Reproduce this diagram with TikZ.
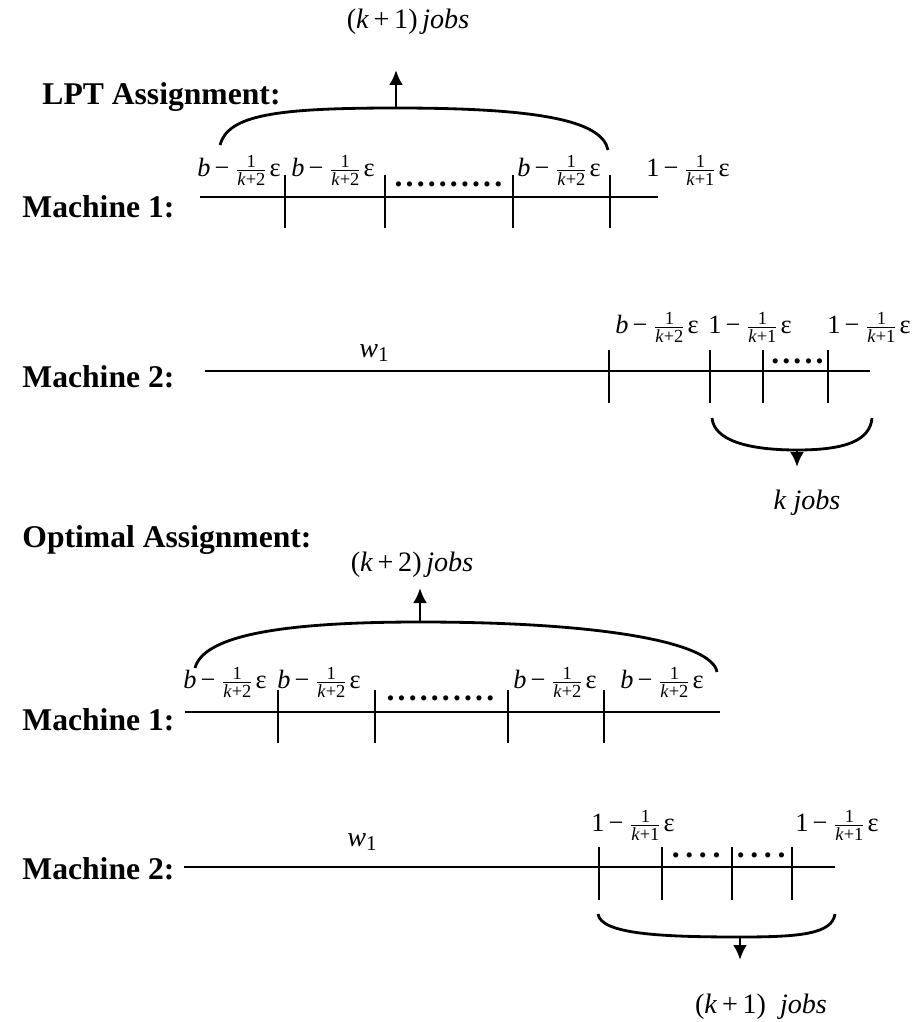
\documentclass[tikz,border=0pt]{standalone}
\usepackage{amsmath}
\usepackage{fontspec}
\setmainfont{Liberation Serif}
\usetikzlibrary{arrows.meta, positioning}

% one job length: b - 1/(k+2) eps  or  1 - 1/(k+1) eps
\newcommand{\piece}[2]{#1\kern1.2pt−\kern1pt$\frac{\text{1}}{\text{\textit{k}+#2}}$ε}
\newcommand{\bpiece}{\piece{\textit{b}}{2}}
\newcommand{\opiece}{\piece{1}{1}}
% a row of filler dots
\newcommand{\jobdots}[2]{\foreach \i in {1,...,#1}{.\kern#2}}

\begin{document}
\begin{tikzpicture}[
  font=\fontsize{8}{10}\selectfont,
  timeline/.style={thick},
  jobtick/.style={semithick},
  bracearc/.style={thick},
  pointer/.style={thick,-{Latex[length=1.5mm,width=1.4mm]}},
  machlabel/.style={anchor=west,font=\fontsize{9}{11}\selectfont\bfseries},
  seglabel/.style={anchor=south,inner sep=0.5pt,font=\fontsize{7.5}{9}\selectfont},
  dotrow/.style={inner sep=0pt,font=\fontsize{9}{10}\selectfont\bfseries}
]
\useasboundingbox (0,0) rectangle (9.13,-10.22);

% LPT assignment, machine 1
\node[machlabel] (lpt) at (0.30,-0.97) {LPT Assignment:};
\node (jobsA) at (4.08,-0.22) {(\textit{k}\,+\,1)\,\textit{jobs}};
\node[machlabel] (m1a) at (0.10,-2.07) {Machine 1:};
\coordinate (a0) at (2.00,-1.97);
\coordinate (a1) at (6.58,-1.97);
\draw[timeline] (a0) -- (a1);
\foreach \x in {2.85,3.85,5.13,6.10}
  \draw[jobtick] (\x,-1.75) -- (\x,-2.28);
\node[seglabel] (pa1) at (2.39,-1.88) {\bpiece};
\node[seglabel] (pa2) at (3.33,-1.88) {\bpiece};
\node[dotrow] (da) at (4.50,-1.84) {\jobdots{10}{0.9pt}};
\node[seglabel] (pa3) at (5.59,-1.88) {\bpiece};
\node[seglabel] (pa4) at (6.88,-1.88) {\opiece};
% brace over the first k+1 jobs
\coordinate (la) at (2.20,-1.45);
\coordinate (ta) at (3.96,-1.08);
\coordinate (ra) at (6.08,-1.50);
\coordinate (ha) at (3.96,-0.70);
\draw[bracearc] (la) .. controls +(0.08,0.3) and +(-1.2,0) .. (ta)
  .. controls +(1.4,0) and +(-0.06,0.3) .. (ra);
\draw[pointer] (ta) -- (ha);

% LPT assignment, machine 2
\node[machlabel] (m2a) at (0.10,-3.77) {Machine 2:};
\coordinate (b0) at (2.05,-3.71);
\coordinate (b1) at (8.70,-3.71);
\draw[timeline] (b0) -- (b1);
\node (wa) at (3.75,-3.53) {\textit{w}\textsubscript{1}};
\foreach \x in {6.09,7.10,7.63,8.28}
  \draw[jobtick] (\x,-3.50) -- (\x,-4.03);
\node[seglabel] (pb1) at (6.57,-3.45) {\bpiece};
\node[seglabel] (pb2) at (7.50,-3.45) {\opiece};
\node[seglabel] (pb3) at (8.69,-3.45) {\opiece};
\node[dotrow] (db) at (7.99,-3.61) {\jobdots{5}{0.9pt}};
% brace under the last k jobs
\coordinate (lb) at (7.12,-4.18);
\coordinate (tb) at (7.97,-4.50);
\coordinate (rb) at (8.72,-4.18);
\coordinate (hb) at (7.97,-4.67);
\draw[bracearc] (lb) .. controls +(0.02,-0.22) and +(-0.5,0) .. (tb)
  .. controls +(0.5,0) and +(-0.02,-0.22) .. (rb);
\draw[pointer] (tb) -- (hb);
\node (jobsB) at (8.07,-5.03) {\textit{k}\ \textit{jobs}};

% optimal assignment, machine 1
\node[machlabel] (opt) at (0.10,-5.40) {Optimal Assignment:};
\node (jobsC) at (4.12,-5.65) {(\textit{k}\,+\,2)\,\textit{jobs}};
\node[machlabel] (m1c) at (0.10,-7.20) {Machine 1:};
\coordinate (c0) at (1.85,-7.12);
\coordinate (c1) at (7.20,-7.12);
\draw[timeline] (c0) -- (c1);
\foreach \x in {2.78,3.75,5.08,6.04}
  \draw[jobtick] (\x,-6.90) -- (\x,-7.43);
\node[seglabel] (pc1) at (2.25,-7.00) {\bpiece};
\node[seglabel] (pc2) at (3.19,-7.00) {\bpiece};
\node[dotrow] (dc) at (4.42,-6.98) {\jobdots{10}{0.9pt}};
\node[seglabel] (pc3) at (5.55,-7.00) {\bpiece};
\node[seglabel] (pc4) at (6.62,-7.00) {\bpiece};
% brace over all k+2 jobs
\coordinate (lc) at (1.95,-6.68);
\coordinate (tc) at (4.20,-6.22);
\coordinate (rc) at (7.17,-6.72);
\coordinate (hc) at (4.20,-5.88);
\draw[bracearc] (lc) .. controls +(0.08,0.3) and +(-1.5,0) .. (tc)
  .. controls +(1.8,0) and +(-0.05,0.3) .. (rc);
\draw[pointer] (tc) -- (hc);

% optimal assignment, machine 2
\node[machlabel] (m2c) at (0.10,-8.69) {Machine 2:};
\coordinate (d0) at (1.84,-8.67);
\coordinate (d1) at (8.35,-8.67);
\draw[timeline] (d0) -- (d1);
\node (wc) at (3.63,-8.42) {\textit{w}\textsubscript{1}};
\foreach \x in {5.99,6.62,7.32,7.92}
  \draw[jobtick] (\x,-8.47) -- (\x,-9.00);
\node[seglabel] (pd1) at (6.33,-8.43) {\opiece};
\node[seglabel] (pd2) at (8.37,-8.43) {\opiece};
\node[dotrow] (dd1) at (6.99,-8.55) {\jobdots{4}{1.6pt}};
\node[dotrow] (dd2) at (7.64,-8.55) {\jobdots{4}{1.6pt}};
% brace under the last k+1 jobs
\coordinate (ld) at (5.98,-9.14);
\coordinate (td) at (7.40,-9.37);
\coordinate (rd) at (8.35,-9.14);
\coordinate (hd) at (7.40,-9.60);
\draw[bracearc] (ld) .. controls +(0.03,-0.2) and +(-0.8,0) .. (td)
  .. controls +(0.6,0) and +(-0.03,-0.2) .. (rd);
\draw[pointer] (td) -- (hd);
\node (jobsD) at (7.61,-10.07) {(\textit{k}\,+\,1)\ \ \textit{jobs}};
\end{tikzpicture}
\end{document}
